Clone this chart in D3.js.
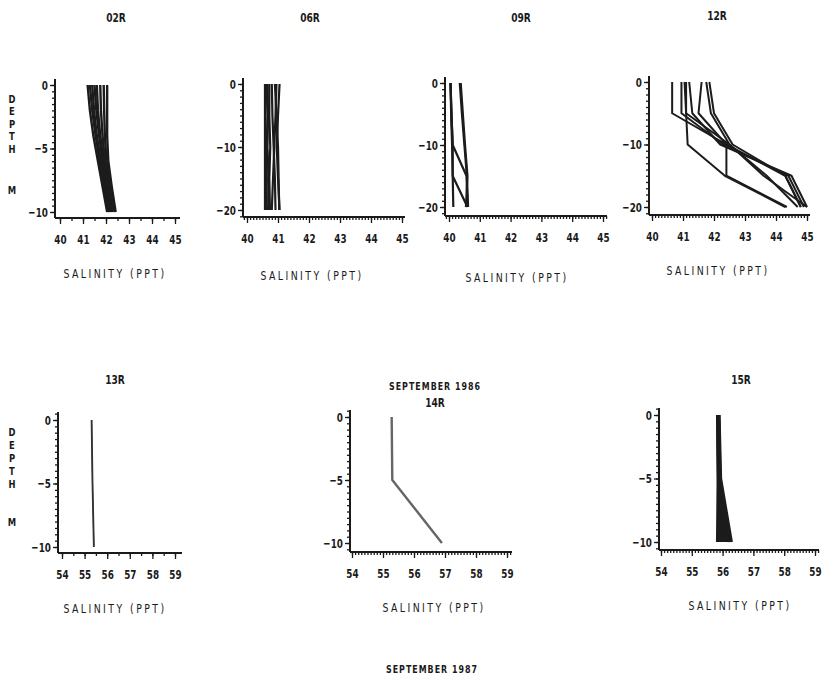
<!DOCTYPE html>
<html>
<head>
<meta charset="utf-8">
<script src="https://cdn.jsdelivr.net/npm/d3@7"></script>
<style>
  html, body { margin: 0; padding: 0; background: #fff; }
  svg text { font-family: "DejaVu Sans", sans-serif; font-weight: bold; fill: #1a1a1a; }
  svg text.axis-title { font-weight: normal; }
</style>
</head>
<body>
<script>
// ---- depth grids (m) ----
const depths02R = [0, -2, -4, -6, -8, -10];
const depths20m = [0, -5, -10, -15, -20];
const depths10m = [0, -5, -10];

// ---- salinity profiles (ppt), one row per cast ----
const sal02R = [
  [41.20, 41.30, 41.45, 41.65, 41.85, 42.05],
  [41.30, 41.40, 41.55, 41.72, 41.90, 42.10],
  [41.40, 41.48, 41.60, 41.78, 41.95, 42.15],
  [41.50, 41.58, 41.70, 41.85, 42.00, 42.20],
  [41.60, 41.65, 41.75, 41.90, 42.08, 42.25],
  [41.75, 41.78, 41.85, 41.95, 42.12, 42.30],
  [41.90, 41.92, 41.95, 42.02, 42.20, 42.38],
  [42.05, 42.05, 42.05, 42.10, 42.25, 42.42]
];
const sal06R = [
  [40.58, 40.58, 40.58, 40.58, 40.58],
  [40.62, 40.60, 40.62, 40.64, 40.62],
  [40.66, 40.68, 40.66, 40.70, 40.68],
  [40.72, 40.72, 40.75, 40.72, 40.74],
  [40.80, 40.82, 40.86, 40.90, 40.92],
  [40.95, 40.92, 40.88, 40.84, 40.80],
  [41.05, 41.00, 40.96, 41.00, 41.05],
  [40.90, 40.95, 41.00, 41.02, 41.04]
];
const sal09R = [
  [40.05, 40.07, 40.10, 40.12, 40.14],
  [40.05, 40.08, 40.12, 40.57, 40.60],
  [40.05, 40.08, 40.12, 40.12, 40.60],
  [40.35, 40.42, 40.50, 40.58, 40.62],
  [40.38, 40.45, 40.52, 40.60, 40.55]
];
const sal12R = [
  [40.65, 40.65, 42.40, 44.30, 44.80],
  [40.95, 40.95, 42.30, 44.40, 44.90],
  [41.10, 41.10, 42.50, 43.60, 45.00],
  [41.20, 41.30, 42.20, 44.50, 45.00],
  [41.60, 41.50, 42.40, 42.40, 44.35],
  [41.75, 41.90, 42.50, 43.70, 44.70],
  [41.85, 42.00, 42.60, 44.30, 44.80],
  [41.05, 41.10, 41.15, 42.35, 44.30]
];
const sal13R = [
  [55.30, 55.34, 55.40],
  [55.32, 55.36, 55.42]
];
const sal14R = [
  [55.28, 55.30, 56.90]
];
const sal15R = [
  [55.82, 55.84, 55.82],
  [55.83, 55.85, 55.88],
  [55.84, 55.86, 55.93],
  [55.85, 55.87, 55.98],
  [55.86, 55.88, 56.03],
  [55.86, 55.89, 56.08],
  [55.87, 55.90, 56.12],
  [55.88, 55.91, 56.17],
  [55.88, 55.92, 56.21],
  [55.89, 55.93, 56.25],
  [55.90, 55.95, 56.30]
];

// ---- labels and ticks ----
const stationNames = ["02R", "06R", "09R", "12R", "13R", "14R", "15R"];
const xTicks1986 = [40, 41, 42, 43, 44, 45];
const xTicks1987 = [54, 55, 56, 57, 58, 59];
const yTicks10 = [0, -5, -10];
const yTicks20 = [0, -10, -20];
const periodLabels = ["SEPTEMBER 1986", "SEPTEMBER 1987"];
const xLabel = "SALINITY (PPT)";
const depthLetters = ["D", "E", "P", "T", "H"];
const depthUnit = "M";

const W = 823, H = 678;
const svg = d3.select("body").append("svg").attr("width", W).attr("height", H);

// Squeeze glyphs horizontally around each text's own x anchor (tall, narrow plotter lettering)
function narrow(sel, k) {
  sel.each(function () {
    const t = d3.select(this);
    const x = +t.attr("x") || 0;
    t.attr("transform", `translate(${x},0) scale(${k},1) translate(${-x},0)`);
  });
}

// Panel geometry (pixel anchors for the tick values at both ends of each axis)
const panels = [
  { name: stationNames[0], depths: depths02R, data: sal02R, xTicks: xTicks1986, yTicks: yTicks10,
    px: [60, 175], py: [85, 212], left: 55, right: 180, top: 79, bottom: 218, xMinor: 0.5, yMinor: 0.5,
    title: [116, 17], label: [115, 273], stroke: "#1c1c1c", width: 2.4 },
  { name: stationNames[1], depths: depths20m, data: sal06R, xTicks: xTicks1986, yTicks: yTicks20,
    px: [247, 402], py: [84, 210], left: 243, right: 405, top: 78, bottom: 217, xMinor: 0.1, yMinor: 1,
    title: [310, 17], label: [312, 275], stroke: "#1c1c1c", width: 2.2 },
  { name: stationNames[2], depths: depths20m, data: sal09R, xTicks: xTicks1986, yTicks: yTicks20,
    px: [449, 603], py: [83, 207], left: 445, right: 607, top: 77, bottom: 216, xMinor: 0.1, yMinor: 1,
    title: [521, 17], label: [517, 277], stroke: "#1c1c1c", width: 2.2 },
  { name: stationNames[3], depths: depths20m, data: sal12R, xTicks: xTicks1986, yTicks: yTicks20,
    px: [652, 807], py: [82, 207], left: 649, right: 810, top: 76, bottom: 215, xMinor: 0.1, yMinor: 1,
    title: [717, 15], label: [718, 270], stroke: "#1c1c1c", width: 2.0 },
  { name: stationNames[4], depths: depths10m, data: sal13R, xTicks: xTicks1987, yTicks: yTicks10,
    px: [62, 175], py: [420, 547], left: 58, right: 182, top: 412, bottom: 553, xMinor: 0.5, yMinor: 0.5,
    title: [115, 379], label: [115, 608], stroke: "#333", width: 1.4 },
  { name: stationNames[5], depths: depths10m, data: sal14R, xTicks: xTicks1987, yTicks: yTicks10,
    px: [352, 507], py: [417, 543], left: 350, right: 512, top: 410, bottom: 552, xMinor: 0.1, yMinor: 0.5,
    title: [435, 402], label: [434, 607], stroke: "#666", width: 2.4 },
  { name: stationNames[6], depths: depths10m, data: sal15R, xTicks: xTicks1987, yTicks: yTicks10,
    px: [661, 815], py: [415, 542], left: 659, right: 819, top: 408, bottom: 550, xMinor: 0.1, yMinor: 0.5,
    title: [741, 379], label: [740, 605], stroke: "#1c1c1c", width: 2.2 }
];

function styleAxis(sel) {
  sel.select(".domain").remove();
  sel.selectAll(".tick line").attr("stroke", "#1a1a1a").attr("stroke-width", 1.3);
  sel.selectAll(".tick text").style("font-size", "13px").call(narrow, 0.68);
}

panels.forEach(p => {
  const xT = p.xTicks;
  const x = d3.scaleLinear().domain([xT[0], xT[xT.length - 1]]).range(p.px);
  const y = d3.scaleLinear().domain([p.yTicks[0], p.yTicks[p.yTicks.length - 1]]).range(p.py);
  const g = svg.append("g");

  // minor and major x ticks
  const xLo = x.invert(p.left), xHi = x.invert(p.right);
  const minorX = d3.range(Math.ceil(xLo / p.xMinor) * p.xMinor, xHi, p.xMinor);
  g.append("g").attr("transform", `translate(0,${p.bottom})`)
    .call(d3.axisBottom(x).tickValues(minorX).tickSize(3).tickFormat(""))
    .call(styleAxis);
  g.append("g").attr("transform", `translate(0,${p.bottom})`)
    .call(d3.axisBottom(x).tickValues(xT).tickSize(6).tickPadding(11).tickFormat(d3.format("d")))
    .call(styleAxis);

  // minor and major y ticks
  const yLo = y.invert(p.bottom), yHi = y.invert(p.top);
  const minorY = d3.range(Math.ceil(yLo / p.yMinor) * p.yMinor, yHi, p.yMinor);
  g.append("g").attr("transform", `translate(${p.left},0)`)
    .call(d3.axisLeft(y).tickValues(minorY).tickSize(3).tickFormat(""))
    .call(styleAxis);
  g.append("g").attr("transform", `translate(${p.left},0)`)
    .call(d3.axisLeft(y).tickValues(p.yTicks).tickSize(5).tickPadding(2).tickFormat(d3.format("d")))
    .call(styleAxis);

  // axis lines
  g.append("line").attr("x1", p.left).attr("x2", p.right).attr("y1", p.bottom).attr("y2", p.bottom)
    .attr("stroke", "#1a1a1a").attr("stroke-width", 2);
  g.append("line").attr("x1", p.left).attr("x2", p.left).attr("y1", p.top).attr("y2", p.bottom)
    .attr("stroke", "#1a1a1a").attr("stroke-width", 2);

  // profiles
  const line = d3.line().x(d => x(d[0])).y(d => y(d[1]));
  g.selectAll("path.profile").data(p.data).enter().append("path")
    .attr("class", "profile")
    .attr("d", s => line(s.map((v, i) => [v, p.depths[i]])))
    .attr("fill", "none").attr("stroke", p.stroke).attr("stroke-width", p.width)
    .attr("stroke-linejoin", "round");

  // station title and x label
  g.append("text").attr("x", p.title[0]).attr("y", p.title[1]).attr("dy", "0.35em")
    .attr("text-anchor", "middle").style("font-size", "13px").text(p.name).call(narrow, 0.7);
  g.append("text").attr("class", "axis-title").attr("x", p.label[0]).attr("y", p.label[1]).attr("dy", "0.35em")
    .attr("text-anchor", "middle").style("font-size", "13px").style("letter-spacing", "3.4px")
    .text(xLabel).call(narrow, 0.72);
});

// vertical "DEPTH M" labels: stacked letters
function depthLabel(cx, y0, step, my) {
  depthLetters.forEach((c, i) => {
    svg.append("text").attr("x", cx).attr("y", y0 + i * step).attr("dy", "0.35em")
      .attr("text-anchor", "middle").style("font-size", "10.5px").text(c).call(narrow, 0.8);
  });
  svg.append("text").attr("x", cx).attr("y", my).attr("dy", "0.35em")
    .attr("text-anchor", "middle").style("font-size", "10.5px").text(depthUnit).call(narrow, 0.8);
}
depthLabel(12, 99, 12.5, 190);
depthLabel(12, 432, 13, 522);

// period captions
svg.append("text").attr("x", 435).attr("y", 386).attr("dy", "0.35em").attr("text-anchor", "middle")
  .style("font-size", "11px").style("letter-spacing", "1.4px").text(periodLabels[0]).call(narrow, 0.72);
svg.append("text").attr("x", 432).attr("y", 669).attr("dy", "0.35em").attr("text-anchor", "middle")
  .style("font-size", "11px").style("letter-spacing", "1.4px").text(periodLabels[1]).call(narrow, 0.72);
</script>
</body>
</html>
